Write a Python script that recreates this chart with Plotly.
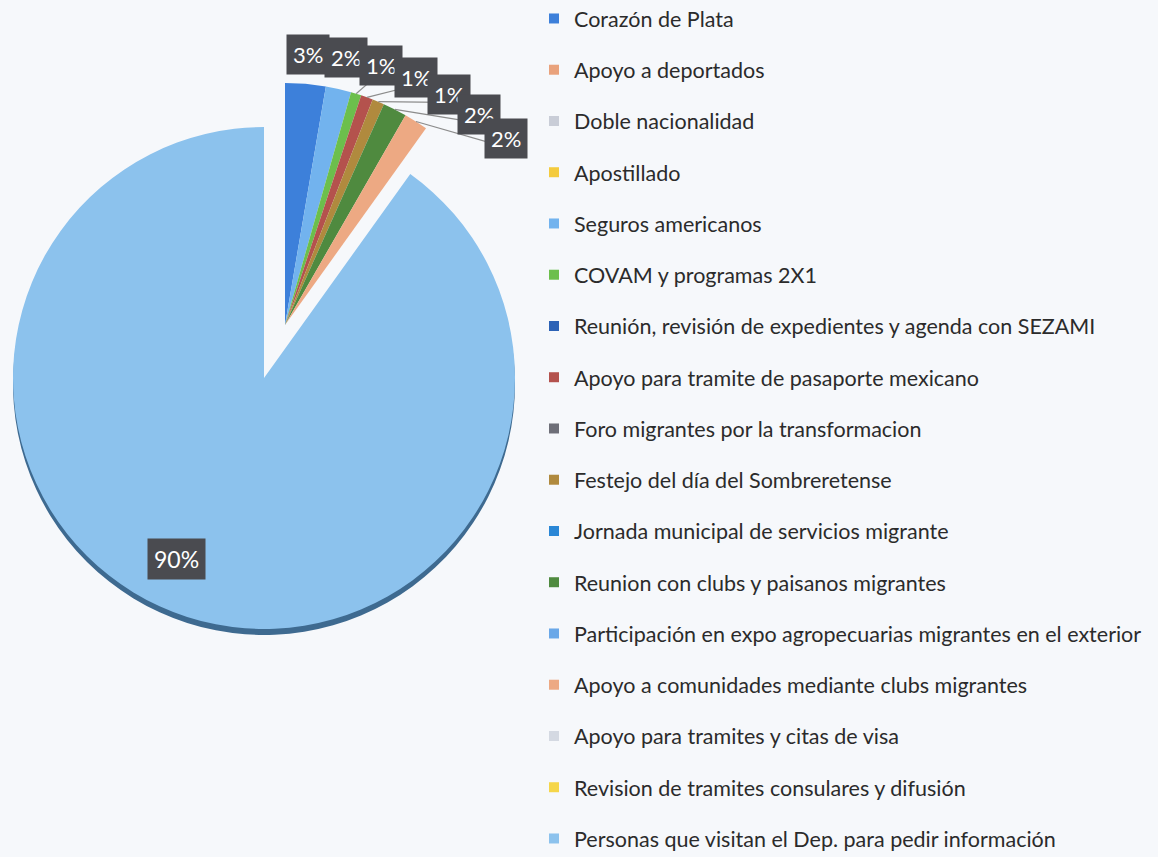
import math
import plotly.graph_objects as go

# ---------------- data ----------------
categories = [
    "Corazón de Plata",
    "Apoyo a deportados",
    "Doble nacionalidad",
    "Apostillado",
    "Seguros americanos",
    "COVAM y programas 2X1",
    "Reunión, revisión de expedientes y agenda con SEZAMI",
    "Apoyo para tramite de pasaporte mexicano",
    "Foro migrantes por la transformacion",
    "Festejo del día del Sombreretense",
    "Jornada municipal de servicios migrante",
    "Reunion con clubs y paisanos migrantes",
    "Participación en expo agropecuarias migrantes en el exterior",
    "Apoyo a comunidades mediante clubs migrantes",
    "Apoyo para tramites y citas de visa",
    "Revision de tramites consulares y difusión",
    "Personas que visitan el Dep. para pedir información",
]
values = [27, 0, 0, 0, 17, 7, 0, 8, 0, 8, 0, 16, 0, 16, 0, 0, 901]
colors = [
    "#3d80da", "#e9a27c", "#c9cdd7", "#f4cb3e", "#72b3ee", "#6cbf4c",
    "#2c62b6", "#b4524d", "#6e6f78", "#b08a3e", "#2a87d6", "#4f8a3f",
    "#6aa8e8", "#eda983", "#d4d9e2", "#f5d64a", "#8cc2ed",
]

# ---------------- layout constants ----------------
W, H = 1158, 857
BG = "#f6f8fb"
CLEAR = "rgba(0,0,0,0)"
BIG = len(values) - 1
BIG_C, BIG_R = (264, 378), 251
SMALL_C, SMALL_R = (285, 325), 242
SHADOW_DY = 6


def px_to_paper(x, y):
    return x / W, 1 - y / H


def dom(cx, cy, r):
    x0, y1 = px_to_paper(cx - r, cy - r)
    x1, y0 = px_to_paper(cx + r, cy + r)
    return dict(x=[x0, x1], y=[y0, y1])


total = sum(values)
pct = [round(100 * v / total) for v in values]

common = dict(
    labels=categories, values=values, sort=False, direction="clockwise",
    rotation=0, textinfo="none", showlegend=False, hoverinfo="label+percent",
)

fig = go.Figure()
# shadow rim of the big slice
fig.add_trace(go.Pie(
    **common,
    marker=dict(colors=[CLEAR] * BIG + ["#3e6a90"], line=dict(width=0)),
    domain=dom(BIG_C[0], BIG_C[1] + SHADOW_DY, BIG_R),
))
# big (exploded) slice
fig.add_trace(go.Pie(
    **common,
    marker=dict(colors=[CLEAR] * BIG + [colors[BIG]], line=dict(width=0)),
    domain=dom(BIG_C[0], BIG_C[1], BIG_R),
))
# small slices
fig.add_trace(go.Pie(
    **common,
    marker=dict(colors=colors[:BIG] + [CLEAR], line=dict(width=0)),
    domain=dom(SMALL_C[0], SMALL_C[1], SMALL_R),
))

# legend entries
for cat, col in zip(categories, colors):
    fig.add_trace(go.Scatter(
        x=[None], y=[None], mode="markers", name=cat, legendgroup=cat,
        marker=dict(symbol="square", size=10, color=col), hoverinfo="skip",
    ))

# ---------------- percentage labels ----------------
annotations, shapes = [], []
cum = 0
mids = []
for v in values:
    mids.append((cum + v / 2) / total * 360)
    cum += v

label_box = dict(bgcolor="#4a4b50", borderpad=6, showarrow=False,
                 xref="paper", yref="paper", xanchor="center", yanchor="middle")


def polar(c, r, ang):
    return c[0] + r * math.sin(math.radians(ang)), c[1] - r * math.cos(math.radians(ang))


prev_pt = None
prev_a = -100
k = 0
for i, v in enumerate(values):
    if v == 0 or i == BIG:
        continue
    rr = SMALL_R * 1.12 + 3 * k
    a = max(mids[i], prev_a + 1)
    lx, ly = polar(SMALL_C, rr, a)
    while prev_pt is not None and math.hypot(lx - prev_pt[0], ly - prev_pt[1]) < 36:
        a += 0.25
        lx, ly = polar(SMALL_C, rr, a)
    prev_pt, prev_a = (lx, ly), a
    k += 1
    if a - mids[i] > 2:
        sx, sy = polar(SMALL_C, SMALL_R, mids[i])
        ex, ey = polar(SMALL_C, rr - 10, a)
        x0, y0 = px_to_paper(sx, sy)
        x1, y1 = px_to_paper(ex, ey)
        shapes.append(dict(type="line", xref="paper", yref="paper", x0=x0, y0=y0,
                           x1=x1, y1=y1, line=dict(color="#8c8c8c", width=1.2)))
    px, py = px_to_paper(lx, ly)
    annotations.append(dict(x=px, y=py, text=f"{pct[i]}%",
                            font=dict(color="white", size=22, family="Lato"), **label_box))

bx, by = polar(BIG_C, BIG_R * 0.8, mids[BIG] + 8)
px, py = px_to_paper(bx, by)
annotations.append(dict(x=px, y=py, text=f"{pct[BIG]}%",
                        font=dict(color="white", size=23, family="Lato"), **label_box))

fig.update_layout(
    width=W, height=H,
    margin=dict(l=0, r=0, t=0, b=0, autoexpand=False),
    paper_bgcolor=BG, plot_bgcolor=BG,
    annotations=annotations, shapes=shapes,
    legend=dict(
        x=534 / W, y=1 + 2 / H, xanchor="left", yanchor="top",
        font=dict(family="Lato", size=21.5, color="#2b2b2b"),
        bgcolor="rgba(0,0,0,0)", itemwidth=30, tracegroupgap=20.3,
        traceorder="grouped", maxheight=1000,
    ),
    showlegend=True,
)
fig.update_xaxes(visible=False)
fig.update_yaxes(visible=False)

fig.write_html("out.html", config={"displayModeBar": False},
               post_script="document.body.style.margin='0px';")
